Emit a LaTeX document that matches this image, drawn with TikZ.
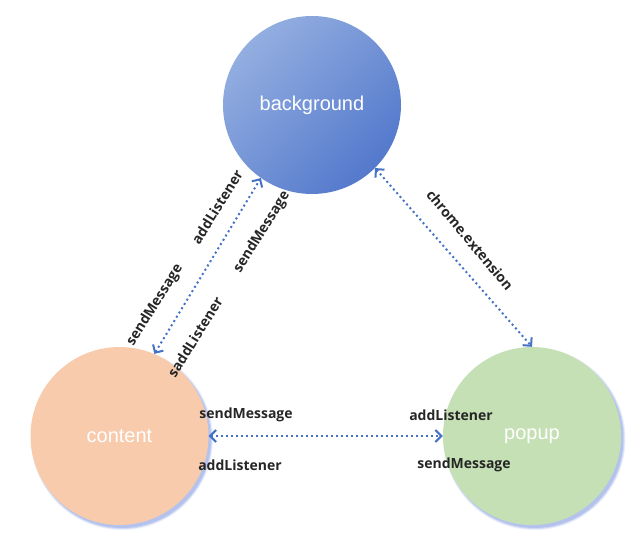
\documentclass[tikz,border=0pt]{standalone}
\usepackage{fontspec}
\setmainfont{Liberation Sans}
\newfontfamily\lblfont{Open Sans}
\usetikzlibrary{arrows.meta}
\definecolor{conn}{HTML}{4472C4}
\definecolor{bgA}{HTML}{93AEE0}
\definecolor{bgB}{HTML}{5479CC}
\definecolor{contentc}{HTML}{F8CBAD}
\definecolor{popupc}{HTML}{C5E0B4}
\definecolor{glow}{HTML}{7F98E0}
\definecolor{lbltxt}{HTML}{262626}
\begin{document}
\begin{tikzpicture}[x=1pt,y=-1pt,
  bubble/.style={circle, minimum size=178pt, inner sep=0pt, text=white, font=\fontsize{20}{24}\selectfont},
  tip/.tip={Straight Barb[length=6pt,width=12pt,line width=2pt]},
  link/.style={draw=conn, line width=2pt, dash pattern=on 2pt off 3pt, tip-tip},
  lbl/.style={font=\lblfont\bfseries\fontsize{14}{16}\selectfont, text=lbltxt, inner sep=0pt}]
\useasboundingbox (0,0) rectangle (641,557);
% soft glow shadows
\foreach \r/\o in {91/0.15, 90/0.25, 89/0.35}{
  \fill[glow, opacity=\o] (122,439) circle (\r);
  \fill[glow, opacity=\o] (534.5,439) circle (\r);
}
\node[bubble, top color=bgA, bottom color=bgB, shading angle=45] (background) at (312,105) {background};
\node[bubble, fill=contentc] (content) at (119.5,436) {content};
\node[bubble, fill=popupc] (popup) at (532,436) {popup};
% connectors
\draw[link] (content.67) -- (background.235);
\draw[link] (background.-45) -- (popup.90);
\draw[link] (content.east) -- (popup.west);
% labels
\node[lbl, rotate=58] (l1) at (217,207) {addListener};
\node[lbl, rotate=58] (l2) at (262,232) {sendMessage};
\node[lbl, rotate=58] (l3) at (155,305) {sendMessage};
\node[lbl, rotate=58] (l4) at (195,337) {saddListener};
\node[lbl, rotate=-50] (l5) at (470,240) {chrome.extension};
\node[lbl] (l6) at (246,415) {sendMessage};
\node[lbl] (l7) at (240,465) {addListener};
\node[lbl] (l8) at (451,415) {addListener};
\node[lbl] (l9) at (464,465) {sendMessage};
\end{tikzpicture}
\end{document}
